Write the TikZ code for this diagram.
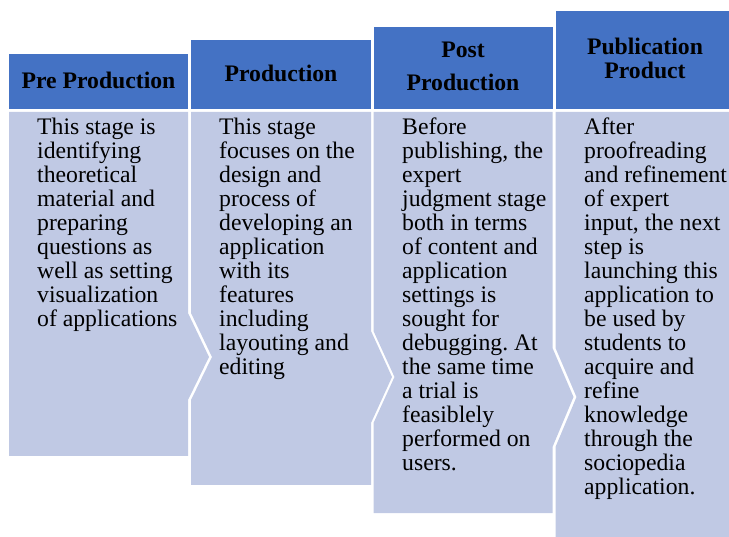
\documentclass[tikz,border=0pt]{standalone}
\usepackage{fontspec}
\setmainfont{Liberation Serif}
\frenchspacing
\definecolor{headblue}{RGB}{68,114,196}
\definecolor{bodylav}{RGB}{192,201,228}
\begin{document}
\begin{tikzpicture}[x=1pt,y=-1pt,
  headbox/.style={fill=headblue},
  bodybox/.style={fill=bodylav},
  headtext/.style={inner sep=0pt,anchor=base,font=\fontsize{23.7}{24.6}\selectfont\bfseries},
  bodytext/.style={inner sep=0pt,anchor=base west}]
\useasboundingbox (0,0) rectangle (729,537);
\begin{scope}
\clip (0,0) rectangle (729,537);
% header bars, stepped upward from left to right
\fill[headbox] (9,54) rectangle (188,109.5);
\fill[headbox] (191,40) rectangle (371,109.5);
\fill[headbox] (373.5,27) rectangle (552.5,109.5);
\fill[headbox] (555.5,11) rectangle (735,109.5);
% body panels with chevron joints
\fill[bodybox] (9,112) -- (188,112) -- (188,313) -- (209,357) -- (188,400)
  -- (188,456) -- (9,456) -- cycle;
\fill[bodybox] (191,112) -- (371,112) -- (371,331) -- (392,377) -- (371,423)
  -- (371,485) -- (191,485) -- (191,400) -- (212,357) -- (191,313) -- cycle;
\fill[bodybox] (373.5,112) -- (552.5,112) -- (552.5,348) -- (573.5,397) -- (552.5,447)
  -- (552.5,513) -- (373.5,513) -- (373.5,423) -- (394.5,377) -- (373.5,331) -- cycle;
\fill[bodybox] (555.5,112) -- (735,112) -- (735,540) -- (555.5,540)
  -- (555.5,447) -- (576.5,397) -- (555.5,348) -- cycle;
% headings
\node[headtext] (h1) at (98.5,89) {Pre Production};
\node[headtext] (h2) at (281,81.7) {Production};
\node[headtext] (h3a) at (463,57.3) {Post};
\node[headtext] (h3b) at (463,91) {Production};
\node[headtext] (h4a) at (645,54.3) {Publication};
\node[headtext] (h4b) at (645,79) {Product};
% descriptions
\newcommand{\bodypar}[1]{\parbox[t]{200pt}{\fontsize{23.7}{24.0}\selectfont\raggedright #1}}
\node[bodytext] (t1) at (37,134.5) {\bodypar{This stage is\\identifying\\theoretical\\material and\\preparing\\questions as\\well as setting\\visualization\\of applications}};
\node[bodytext] (t2) at (219,134.5) {\bodypar{This stage\\focuses on the\\design and\\process of\\developing an\\application\\with its\\features\\including\\layouting and\\editing}};
\node[bodytext] (t3) at (402,134.5) {\bodypar{Before\\publishing, the\\expert\\judgment stage\\both in terms\\of content and\\application\\settings is\\sought for\\debugging. At\\the same time\\a trial is\\feasiblely\\performed on\\users.}};
\node[bodytext] (t4) at (584,134.5) {\bodypar{After\\proofreading\\and refinement\\of expert\\input, the next\\step is\\launching this\\application to\\be used by\\students to\\acquire and\\refine\\knowledge\\through the\\sociopedia\\application.}};
\end{scope}
\end{tikzpicture}
\end{document}
